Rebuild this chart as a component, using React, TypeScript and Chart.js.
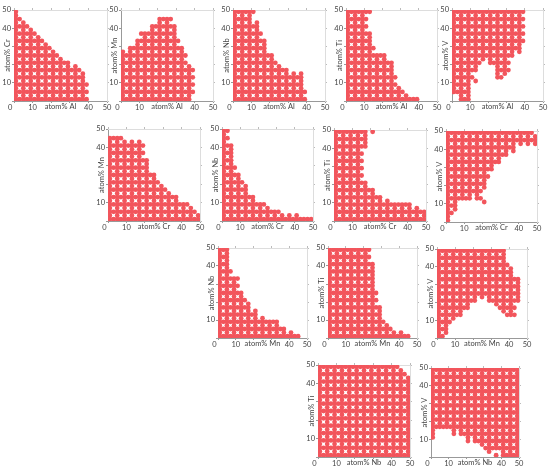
import React, { useEffect, useRef } from "react";
import { Chart, registerables } from "chart.js";

Chart.register(...registerables);

// Rows run from y = 49 down to y = 1 in steps of 2.
// A number n means x from 1 to n; an array holds [from, to, from, to ...]; [] is an empty row.
type Row = number | number[];

const rowY = [49, 47, 45, 43, 41, 39, 37, 35, 33, 31, 29, 27, 25, 23, 21, 19, 17, 15, 13, 11, 9, 7, 5, 3, 1];
const xLabels = [10, 40, 50];
const yLabels = [10, 40, 50];

const crAl: Row[] = [1, 1, 3, 5, 7, 9, 11, 13, 15, 17, 19, 21, 23, 25, 29, 33, 35, 37, 37, 37, 39, 37, 39, 37, 39];
const mnAl: Row[] = [[], [], [21, 27], [21, 27], [17, 29], [17, 29], [11, 29], [11, 29], [9, 31], [9, 31], [5, 33], 33, 35, 35, 35, 37, 39, 39, 39, 37, 39, 37, 39, 37, 37];
const nbAl: Row[] = [11, 9, 9, 13, 13, 13, 15, 15, 17, 17, 17, 17, 21, 21, 23, 25, 29, 37, 37, 37, 37, 37, 39, 37, 39];
const tiAl: Row[] = [13, 9, 11, 9, 11, 9, 13, 13, 13, 13, 15, 13, 21, 21, 25, 25, 25, 25, 27, 27, 27, 29, 31, 33, 39];
const vAl: Row[] = [39, 39, 39, 39, 39, 39, 39, 39, 39, 37, 37, 37, 33, 31, [1, 15, 21, 31], [1, 13, 25, 31], [1, 13, 25, 31], [1, 11, 25, 29], [1, 11, 25, 27], 13, 9, 9, 9, [5, 9], [5, 9]];
const mnCr: Row[] = [[], [], 7, 17, 19, 17, 19, 17, 21, 21, 21, 21, 25, 25, 27, 29, 31, 33, 37, 37, 43, 45, 47, 49, 49];
const nbCr: Row[] = [3, 1, 3, 1, 5, 5, 5, 5, 5, 5, 7, 5, 9, 9, 11, 13, 13, 13, 17, 17, 23, 25, 31, 41, 49];
const tiCr: Row[] = [[1, 17, 21, 21], 17, 17, 17, 17, 13, 15, 13, 15, 13, 15, 13, 15, 15, 17, 19, 21, 23, 25, 29, 41, 45, 49, 49, 49];
const vCr: Row[] = [47, 49, 49, 49, 37, 37, 33, 31, 29, 27, 25, 23, 23, 21, 21, 21, 19, 19, [1, 13, 17, 19], [1, 5, 21, 21], 5, 5, 3, 1, 1];
const nbMn: Row[] = [5, 5, 5, 5, 5, 5, 7, 5, 11, 9, 11, 9, 13, 13, 15, 17, 17, 21, 21, 25, 33, 33, 37, 41, 45];
const tiMn: Row[] = [23, 21, 23, 21, 25, 25, 25, 25, 25, 25, 25, 25, 27, 25, 27, 27, 29, 29, 29, 31, 31, 33, 35, 41, 45];
const vMn: Row[] = [37, 37, 37, 37, 39, 41, 41, 41, 45, 45, 45, 45, 45, [1, 21, 25, 45], [1, 21, 29, 45], [1, 19, 33, 43], [1, 17, 35, 43], [1, 13, 37, 41], [1, 13, 39, 43], 9, 7, 7, 5, 5, 3];
const tiNb: Row[] = [43, 45, 47, 49, 49, 49, 49, 49, 49, 49, 49, 49, 49, 49, 49, 49, 49, 49, 49, 49, 49, 49, 49, 49, 49];
const vNb: Row[] = [49, 49, 49, 49, 49, 49, 49, 49, 49, 49, 49, 49, 49, 49, 49, 49, 49, [1, 1, 13, 49], [1, 1, 13, 13, 17, 49], [1, 1, 21, 49], [21, 21, 25, 49], [29, 49], [31, 49], [33, 33, 41, 49], [37, 37, 41, 43, 45, 49]];

type Panel = { rows: Row[]; xName: string; yName: string; box: [number, number, number, number] };

// box: left, top, right, bottom of the plot area on the page
const panels: Panel[] = [
  { rows: crAl, xName: "atom% Al", yName: "atom% Cr", box: [14, 10, 107, 101] },
  { rows: mnAl, xName: "atom% Al", yName: "atom% Mn", box: [121, 10, 213, 101] },
  { rows: nbAl, xName: "atom% Al", yName: "atom% Nb", box: [233, 10, 325, 101] },
  { rows: tiAl, xName: "atom% Al", yName: "atom% Ti", box: [346, 10, 437, 101] },
  { rows: vAl, xName: "atom% Al", yName: "atom% V", box: [452, 10, 543, 101] },
  { rows: mnCr, xName: "atom% Cr", yName: "atom% Mn", box: [108, 129, 200, 221] },
  { rows: nbCr, xName: "atom% Cr", yName: "atom% Nb", box: [222, 129, 313, 221] },
  { rows: tiCr, xName: "atom% Cr", yName: "atom% Ti", box: [334, 130, 426, 221] },
  { rows: vCr, xName: "atom% Cr", yName: "atom% V", box: [446, 131, 537, 222] },
  { rows: nbMn, xName: "atom% Mn", yName: "atom% Nb", box: [218, 248, 307, 338] },
  { rows: tiMn, xName: "atom% Mn", yName: "atom% Ti", box: [328, 248, 417, 338] },
  { rows: vMn, xName: "atom% Mn", yName: "atom% V", box: [437, 249, 527, 338] },
  { rows: tiNb, xName: "atom% Nb", yName: "atom% Ti", box: [318, 365, 410, 457] },
  { rows: vNb, xName: "atom% Nb", yName: "atom% V", box: [431, 368, 519, 457] },
];

const RED = "#f2555c";
const FONT = "Lato";
const TEXT = "#444444";
const PAD_L = 14, PAD_B = 14, PAD_T = 6, PAD_R = 6;

function pointsOf(rows: Row[]) {
  const pts: { x: number; y: number }[] = [];
  rows.forEach((row, i) => {
    const y = rowY[i];
    const spans = typeof row === "number" ? [1, row] : row;
    for (let s = 0; s + 1 < spans.length; s += 2) {
      for (let x = spans[s]; x <= spans[s + 1]; x += 2) {
        if (x % 4 === 3 && y % 4 === 3) continue;
        pts.push({ x, y });
      }
    }
  });
  return pts;
}

function PanelChart({ panel }: { panel: Panel }) {
  const ref = useRef<HTMLCanvasElement>(null);
  const [l, t, r, b] = panel.box;
  useEffect(() => {
    const font = { family: FONT, size: 7.5 };
    const pin = (size: number) => (scale: any) => {
      if (scale.isHorizontal()) scale.height = size;
      else scale.width = size;
    };
    const chart = new Chart(ref.current!, {
      type: "scatter",
      data: {
        datasets: [{
          data: pointsOf(panel.rows),
          backgroundColor: RED,
          borderWidth: 0,
          pointRadius: 2.4,
        }],
      },
      options: {
        animation: false,
        responsive: false,
        events: [],
        layout: { padding: 0 },
        plugins: { legend: { display: false }, tooltip: { enabled: false } },
        scales: {
          x: {
            type: "linear", position: "bottom", min: 0, max: 50,
            afterBuildTicks: (s: any) => {
              s.ticks = [-2, 0, 10, 20, 30, 40, 50].map((value) => ({ value }));
            },
            afterFit: pin(PAD_B),
            border: { color: "#999999" },
            grid: {
              drawOnChartArea: false, tickLength: 2,
              tickColor: (c: any) => (c.tick && c.tick.value < 0 ? "transparent" : "#999999"),
            },
            ticks: {
              autoSkip: false, maxRotation: 0, padding: 0, color: TEXT, font,
              callback: (v: any) => (v === -2 ? "0" : xLabels.includes(v) ? String(v) : ""),
            },
            title: { display: true, text: panel.xName, color: TEXT, font, padding: { top: 0, bottom: 3.5 } },
          },
          y: {
            type: "linear", position: "left", min: 0, max: 50,
            afterFit: pin(PAD_L),
            border: { color: "#999999" },
            grid: { drawOnChartArea: false, tickLength: 2, tickColor: "#999999" },
            ticks: {
              stepSize: 10, autoSkip: false, padding: 1, color: TEXT, font,
              callback: (v: any) => (yLabels.includes(v) ? String(v) : ""),
            },
            title: { display: true, text: panel.yName, color: TEXT, font, padding: { top: 2.7, bottom: 0 } },
          },
          x2: {
            type: "linear", axis: "x", position: "top", min: 0, max: 50,
            afterFit: pin(PAD_T),
            border: { color: "#dddddd" },
            grid: { drawOnChartArea: false, tickLength: 2, tickColor: "#bbbbbb" },
            ticks: { display: false, stepSize: 10 },
          },
          y2: {
            type: "linear", axis: "y", position: "right", min: 0, max: 50,
            afterFit: pin(PAD_R),
            border: { color: "#dddddd" },
            grid: { drawOnChartArea: false, tickLength: 2, tickColor: "#bbbbbb" },
            ticks: { display: false, stepSize: 10 },
          },
        },
      } as any,
    });
    return () => chart.destroy();
  }, [panel]);
  return (
    <canvas
      ref={ref}
      width={r - l + PAD_L + PAD_R}
      height={b - t + PAD_T + PAD_B}
      style={{ position: "absolute", left: l - PAD_L, top: t - PAD_T }}
    />
  );
}

export default function App() {
  return (
    <div style={{ position: "absolute", left: 0, top: 0, width: 550, height: 470, background: "#fff" }}>
      {panels.map((p) => (
        <PanelChart key={p.xName + p.yName} panel={p} />
      ))}
    </div>
  );
}
